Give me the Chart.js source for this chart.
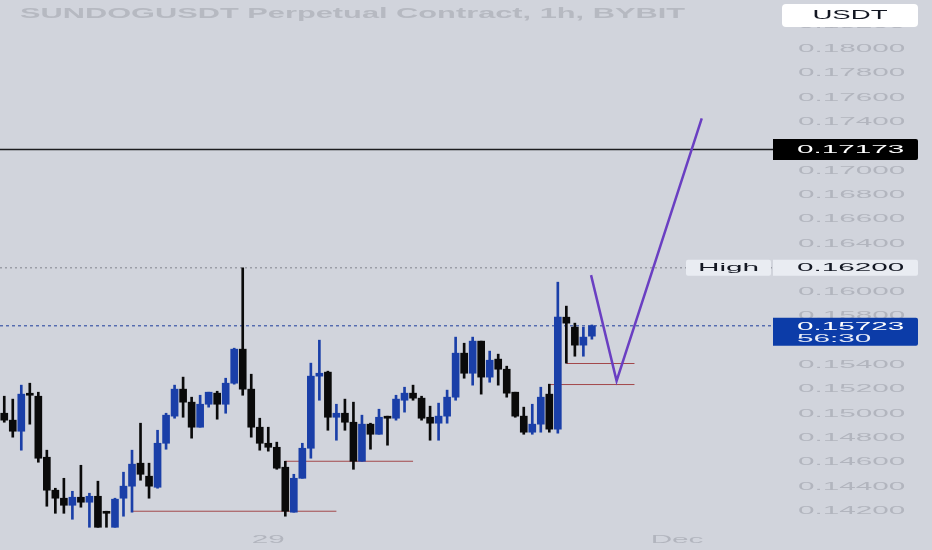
<!DOCTYPE html>
<html><head><meta charset="utf-8">
<script src="https://cdn.jsdelivr.net/npm/chart.js@4.4.1/dist/chart.umd.min.js"></script>
<style>html,body{margin:0;padding:0;background:#d1d4dc;overflow:hidden}canvas{display:block}</style>
</head><body>
<canvas id="c" width="932" height="550"></canvas>
<script>
// ---- data ----
const opens  = [0.15004,0.14947,0.14856,0.15161,0.15144,0.14642,0.14371,0.14305,0.14247,0.14313,
                0.14272,0.14321,0.14190,0.14066,0.14305,0.14404,0.14593,0.14486,0.14395,0.14757,
                0.14980,0.15202,0.15095,0.14889,0.15078,0.15169,0.15078,0.15251,0.15531,0.15202,
                0.14889,0.14757,0.14724,0.14560,0.14190,0.14469,0.14716,0.15309,0.15342,0.14971,
                0.15004,0.14930,0.14609,0.14914,0.14831,0.14971,0.14963,0.15111,0.15169,0.15128,
                0.14971,0.14922,0.14980,0.15136,0.15498,0.15333,0.15597,0.15301,0.15449,0.15366,
                0.15177,0.14980,0.14848,0.14914,0.15161,0.14873,0.15794,0.15712,0.15564,0.15638];
const highs  = [0.15144,0.15120,0.15235,0.15251,0.15177,0.14700,0.14387,0.14469,0.14362,0.14576,
                0.14346,0.14445,0.14198,0.14305,0.14519,0.14700,0.14922,0.14593,0.14864,0.15004,
                0.15235,0.15301,0.15136,0.15152,0.15177,0.15185,0.15292,0.15539,0.16200,0.15325,
                0.14963,0.14889,0.14766,0.14609,0.14502,0.14757,0.15416,0.15605,0.15350,0.15078,
                0.15120,0.15095,0.14988,0.14922,0.15037,0.14980,0.15152,0.15218,0.15235,0.15144,
                0.15062,0.15087,0.15194,0.15630,0.15580,0.15630,0.15597,0.15515,0.15490,0.15391,
                0.15177,0.15054,0.15078,0.15218,0.15243,0.16082,0.15885,0.15745,0.15712,0.15730];
const lows   = [0.14930,0.14807,0.14700,0.14914,0.14601,0.14239,0.14181,0.14181,0.14132,0.14231,
                0.14066,0.14066,0.14066,0.14066,0.14157,0.14190,0.14453,0.14305,0.14387,0.14708,
                0.14963,0.14971,0.14799,0.14889,0.15054,0.14955,0.15004,0.15243,0.15152,0.14807,
                0.14700,0.14692,0.14543,0.14157,0.14190,0.14469,0.14634,0.15111,0.14864,0.14782,
                0.14864,0.14543,0.14609,0.14708,0.14831,0.14741,0.14947,0.15013,0.15111,0.14947,
                0.14782,0.14782,0.14922,0.15111,0.15292,0.15235,0.15161,0.15259,0.15235,0.15136,
                0.14971,0.14831,0.14831,0.14848,0.14848,0.14840,0.15416,0.15473,0.15473,0.15613];
const closes = [0.14947,0.14856,0.15161,0.15152,0.14634,0.14371,0.14305,0.14247,0.14313,0.14272,
                0.14321,0.14066,0.14181,0.14297,0.14404,0.14585,0.14502,0.14404,0.14757,0.14988,
                0.15202,0.15095,0.14889,0.15078,0.15177,0.15078,0.15251,0.15531,0.15202,0.14889,
                0.14757,0.14724,0.14552,0.14198,0.14469,0.14716,0.15309,0.15333,0.14971,0.15004,
                0.14930,0.14609,0.14914,0.14831,0.14971,0.14963,0.15120,0.15169,0.15128,0.14963,
                0.14922,0.14980,0.15136,0.15498,0.15333,0.15597,0.15301,0.15440,0.15366,0.15169,
                0.14980,0.14848,0.14914,0.15136,0.14873,0.15794,0.15745,0.15564,0.15630,0.15723];

const slotCount   = 91;                 // bars that fit the visible time range
const xTickIdx    = [31, 79];
const xTickText   = ['29', 'Dec'];
const priceTicks  = [0.142,0.144,0.146,0.148,0.150,0.152,0.154,0.156,0.158,0.160,0.162,
                     0.164,0.166,0.168,0.170,0.172,0.174,0.176,0.178,0.180,0.182];
const priceMin = 0.14060, priceMax = 0.18403;

const levelPrice = 0.17173;   // black horizontal line
const highPrice  = 0.16200;   // "High" dotted line
const lastPrice  = 0.15723;   // current price
const countdown  = '56:30';

const redFrom  = [15, 33, 64, 66];
const redTo    = [39, 48, 74, 74];
const redPrice = [0.14198, 0.14609, 0.15240, 0.15413];

const pathX = [68.9, 71.9, 81.9];
const pathY = [0.1614, 0.1527, 0.1743];

const titleText = 'SUNDOGUSDT Perpetual Contract, 1h, BYBIT';

// ---- styles ----
const BG = '#d1d4dc', UP = '#1a3fa8', DOWN = '#0a0a0a', AXIS_TXT = '#b2b5be';
const FONT = "'Liberation Sans', Arial, sans-serif";
const STRETCH = 2.7;

const canvas = document.getElementById('c');
const ctx = canvas.getContext('2d');
// the reference is horizontally stretched: stretch every glyph run about its anchor
const rawFill = ctx.fillText.bind(ctx);
ctx.textStretch = STRETCH;
ctx.fillText = function (t, x, y) {
  const s = this.textStretch || 1;
  this.save(); this.translate(x, y); this.scale(s, 1); rawFill(t, 0, 0); this.restore();
};

const colors = opens.map((o, i) => closes[i] >= o ? UP : DOWN);
const seg = (x0, x1, p) => [{x: x0, y: p}, {x: x1, y: p}];
const xLeft = -0.5, xRight = slotCount - 0.5;

const datasets = [
  {type: 'line', data: pathX.map((x, i) => ({x, y: pathY[i]})), borderColor: '#6a3fc2',
   borderWidth: 2.5, pointRadius: 0, tension: 0, order: 0},
  {type: 'line', data: seg(xLeft, xRight, levelPrice), borderColor: '#1c1c1f',
   borderWidth: 1.5, pointRadius: 0, order: 1},
  {type: 'bar', data: opens.map((o, i) => ({x: i, y: [o, closes[i]]})), backgroundColor: colors,
   barThickness: 7, minBarLength: 2, grouped: false, order: 2},
  {type: 'bar', data: lows.map((l, i) => ({x: i, y: [l, highs[i]]})), backgroundColor: colors,
   barThickness: 2, grouped: false, order: 3},
  {type: 'line', data: seg(xLeft, xRight, highPrice), borderColor: '#80838d',
   borderWidth: 1, borderDash: [2, 3], pointRadius: 0, order: 4},
  {type: 'line', data: seg(xLeft, xRight, lastPrice), borderColor: '#1d3c9c',
   borderWidth: 1, borderDash: [3, 3], pointRadius: 0, order: 4},
];
redPrice.forEach((p, k) => datasets.push({type: 'line', data: seg(redFrom[k], redTo[k], p),
  borderColor: '#a3484b', borderWidth: 1, pointRadius: 0, order: 4}));

function box(c, x, y, w, h, r, fill) {
  c.beginPath(); c.roundRect(x, y, w, h, r); c.fillStyle = fill; c.fill();
}
function txt(c, s, x, y, color, font, align, stretch) {
  const prev = c.textStretch;
  c.save(); c.font = font; c.fillStyle = color; c.textAlign = align || 'left';
  c.textBaseline = 'middle'; c.textStretch = stretch || STRETCH; c.fillText(s, x, y); c.restore();
  c.textStretch = prev;
}
function noPad(s) { s.paddingTop = 0; s.paddingBottom = 0; s.paddingLeft = 0; s.paddingRight = 0; }

const overlay = {
  id: 'overlay',
  beforeDraw(chart) {
    const c = chart.ctx; c.save(); c.fillStyle = BG; c.fillRect(0, 0, chart.width, chart.height); c.restore();
    c.save(); c.font = 'bold 15px ' + FONT;
    const w = c.measureText(titleText).width; c.restore();
    txt(c, titleText, 20, 14, '#b6b9c1', 'bold 15px ' + FONT, 'left', 665 / w);
  },
  afterDraw(chart) {
    const c = chart.ctx, y = chart.scales.y;
    const X0 = 773, W = 145;
    // level label
    let py = y.getPixelForValue(levelPrice);
    box(c, X0, py - 10.5, W, 21, [0, 2, 2, 0], '#000000');
    txt(c, levelPrice.toFixed(5), 797, py + 0.5, '#ffffff', '11px ' + FONT);
    // high label
    py = y.getPixelForValue(highPrice);
    box(c, 686, py - 8, 85, 16, 2, '#e9ecf2');
    txt(c, 'High', 728.5, py + 0.5, '#131722', '11px ' + FONT, 'center');
    box(c, X0, py - 8, W, 16, [0, 2, 2, 0], '#e9ecf2');
    txt(c, highPrice.toFixed(5), 797, py + 0.5, '#131722', '11px ' + FONT);
    // last price
    py = y.getPixelForValue(lastPrice);
    box(c, X0, py - 8, W, 28, [0, 2, 2, 0], '#0c3ca8');
    txt(c, lastPrice.toFixed(5), 797, py + 1, '#ffffff', '11px ' + FONT);
    txt(c, countdown, 797, py + 13, '#e8ecf8', '11px ' + FONT);
    // currency button
    box(c, 782, 4, 136, 23, 4, '#ffffff');
    txt(c, 'USDT', 850, 16, '#131722', '12px ' + FONT, 'center', 2.3);
  }
};

new Chart(canvas, {
  type: 'bar',
  data: {datasets},
  plugins: [overlay],
  options: {
    responsive: false, animation: false, devicePixelRatio: 1,
    layout: {padding: 0, autoPadding: false},
    plugins: {legend: {display: false}, tooltip: {enabled: false}, title: {display: false}},
    scales: {
      x: {
        type: 'linear', min: xLeft, max: xRight, offset: false,
        grid: {display: false, drawTicks: false}, border: {display: false},
        afterBuildTicks: s => { s.ticks = xTickIdx.map(v => ({value: v})); },
        afterFit: s => { s.height = 22; noPad(s); },
        ticks: {autoSkip: false, maxRotation: 0, padding: 5, color: AXIS_TXT,
                font: {family: FONT, size: 11},
                callback: v => { const k = xTickIdx.indexOf(v); return k < 0 ? '' : xTickText[k]; }}
      },
      y: {
        type: 'linear', position: 'right', min: priceMin, max: priceMax,
        grid: {display: false, drawTicks: false}, border: {display: false},
        afterBuildTicks: s => { s.ticks = priceTicks.map(v => ({value: v})); },
        afterFit: s => { s.width = 157; noPad(s); },
        ticks: {padding: 23, color: AXIS_TXT, font: {family: FONT, size: 11},
                callback: v => Number(v).toFixed(5)}
      }
    }
  }
});
</script>
</body></html>
